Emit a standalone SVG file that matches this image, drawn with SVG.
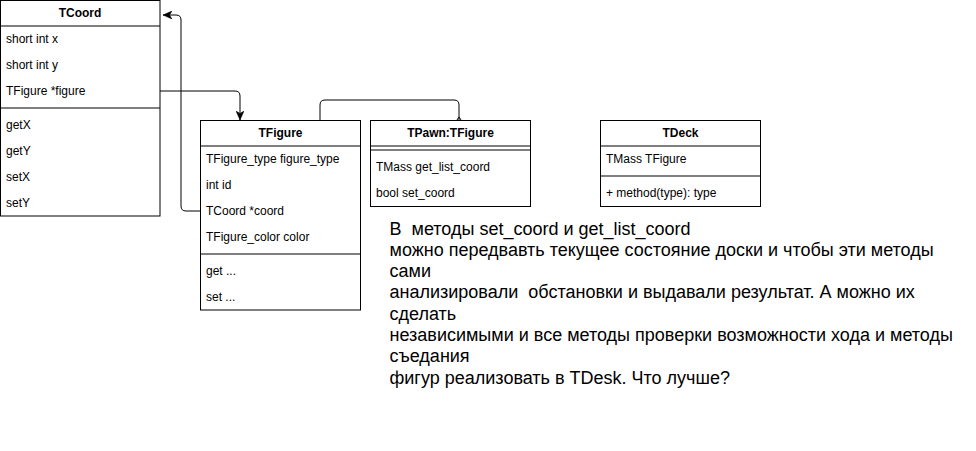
<svg xmlns="http://www.w3.org/2000/svg" width="976" height="451" viewBox="0 0 976 451">
<defs>
<style>
.box{fill:#fff;stroke:#000;stroke-width:1}
.ln{stroke:#000;stroke-width:1;fill:none}
.t{font-family:"Liberation Sans",Arial,sans-serif;font-size:12px;fill:#000}
.h{font-family:"Liberation Sans",Arial,sans-serif;font-size:12px;font-weight:bold;fill:#000;text-anchor:middle}
.big{font-family:"Liberation Sans",Arial,sans-serif;font-size:18px;fill:#000;white-space:pre}
.edge{stroke:#000;stroke-width:1;fill:none}
</style>
<marker id="arr" viewBox="0 0 10 8" refX="9" refY="4" markerWidth="10" markerHeight="8" markerUnits="userSpaceOnUse" orient="auto">
<path d="M0,0 L9,4 L0,8 L2.5,4 Z" fill="#000" stroke="#000" stroke-width="0.5"/>
</marker>
</defs>
<rect width="976" height="451" fill="#fff"/>

<g id="connectors">
<path class="edge" d="M160,91 H235 Q240,91 240,96 V120" marker-end="url(#arr)"/>
<path class="edge" d="M200,211 H186 Q181,211 181,206 V20 Q181,15 176,15 H163" marker-end="url(#arr)"/>
<path class="edge" d="M320,120 V105 Q320,100 325,100 H454 Q459,100 459,105 V120"/>
<path class="edge" d="M457,120 L459,117 L461,120"/>
</g>

<g id="TCoord">
<rect class="box" x="0.5" y="0.5" width="159.5" height="215.5"/>
<line class="ln" x1="0.5" y1="26" x2="160" y2="26"/>
<line class="ln" x1="0.5" y1="108" x2="160" y2="108"/>
<text class="h" x="80" y="17">TCoord</text>
<text class="t" x="6" y="43">short int x</text>
<text class="t" x="6" y="69">short int y</text>
<text class="t" x="6" y="95">TFigure *figure</text>
<text class="t" x="6" y="129">getX</text>
<text class="t" x="6" y="155">getY</text>
<text class="t" x="6" y="181">setX</text>
<text class="t" x="6" y="207">setY</text>
</g>

<g id="TFigure">
<rect class="box" x="200.5" y="120.5" width="160" height="189.5"/>
<line class="ln" x1="200.5" y1="146" x2="360.5" y2="146"/>
<line class="ln" x1="200.5" y1="254" x2="360.5" y2="254"/>
<text class="h" x="280.5" y="137">TFigure</text>
<text class="t" x="206" y="163">TFigure_type figure_type</text>
<text class="t" x="206" y="189">int id</text>
<text class="t" x="206" y="215">TCoord *coord</text>
<text class="t" x="206" y="241">TFigure_color color</text>
<text class="t" x="206" y="275">get ...</text>
<text class="t" x="206" y="301">set ...</text>
</g>

<g id="TPawn">
<rect class="box" x="370.5" y="120.5" width="160" height="86"/>
<line class="ln" x1="370.5" y1="146" x2="530.5" y2="146"/>
<line class="ln" x1="370.5" y1="150" x2="530.5" y2="150"/>
<text class="h" x="450.5" y="137">TPawn:TFigure</text>
<text class="t" x="376" y="171">TMass get_list_coord</text>
<text class="t" x="376" y="197">bool set_coord</text>
</g>

<g id="TDeck">
<rect class="box" x="600.5" y="120.5" width="160" height="86"/>
<line class="ln" x1="600.5" y1="146" x2="760.5" y2="146"/>
<line class="ln" x1="600.5" y1="176" x2="760.5" y2="176"/>
<text class="h" x="680.5" y="137">TDeck</text>
<text class="t" x="606" y="163">TMass TFigure</text>
<text class="t" x="606" y="197">+ method(type): type</text>
</g>

<g id="note">
<text class="big" x="389.5" y="234.5" xml:space="preserve">В  методы set_coord и get_list_coord</text>
<text class="big" x="389.5" y="255.8">можно передвавть текущее состояние доски и чтобы эти методы</text>
<text class="big" x="389.5" y="277.1">сами</text>
<text class="big" x="389.5" y="298.4" xml:space="preserve">анализировали  обстановки и выдавали результат. А можно их</text>
<text class="big" x="389.5" y="319.7">сделать</text>
<text class="big" x="389.5" y="341">независимыми и все методы проверки возможности хода и методы</text>
<text class="big" x="389.5" y="362.3">съедания</text>
<text class="big" x="389.5" y="383.6">фигур реализовать в TDesk. Что лучше?</text>
</g>
</svg>
